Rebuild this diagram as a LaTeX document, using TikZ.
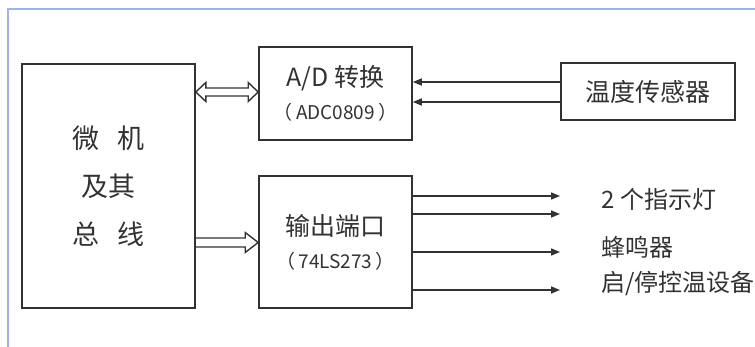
\documentclass[tikz,border=0pt]{standalone}
\usepackage{fontspec}
\setmainfont{Noto Sans CJK SC}
\usepackage{xcolor}
\usetikzlibrary{positioning, calc, arrows.meta}

\definecolor{framecol}{RGB}{160,180,225}
\definecolor{inkcol}{RGB}{50,50,50}

\tikzset{
  blockbox/.style={draw=inkcol, line width=0.8pt, rectangle, text=inkcol, align=center, inner sep=0pt},
  sig/.style={draw=inkcol, line width=0.8pt, -{Triangle[length=4.5pt,width=3.5pt]}},
  busline/.style={draw=inkcol, line width=0.7pt, line join=miter},
  outlabel/.style={anchor=west, text=inkcol, inner sep=0pt, font=\fontsize{12}{12}\selectfont}
}

\begin{document}
\begin{tikzpicture}[x=0.5pt, y=-0.5pt]
    \useasboundingbox (0,0) rectangle (755,347);

    % Outer frame
    \draw[framecol, line width=0.8pt] (8,347) -- (8,9) -- (755,9);

    % Blocks
    \node[blockbox, minimum width=86.5pt, minimum height=122pt,
          font=\fontsize{13.5}{24}\selectfont] (mcu) at (108.5,186)
        {微\hspace{0.7em}机\\及其\\总\hspace{0.7em}线};
    \node[blockbox, minimum width=76.5pt, minimum height=46.5pt,
          font=\fontsize{12.5}{16.5}\selectfont] (adc) at (335.5,93.5)
        {A/D 转换\\{\fontsize{9.5}{16.5}\selectfont （\,ADC0809\,）}};
    \node[blockbox, minimum width=76.5pt, minimum height=66pt,
          font=\fontsize{12.5}{16.5}\selectfont] (port) at (335.5,242)
        {输出端口\\{\fontsize{9.5}{16.5}\selectfont （\,74LS273\,）}};
    \node[blockbox, minimum width=87pt, minimum height=28.5pt,
          font=\fontsize{12.5}{14}\selectfont] (sensor) at (648,91.5) {温度传感器};

    % Output labels
    \node[outlabel] (lamp) at (601,199) {2 个指示灯};
    \node[outlabel] (buzzer) at (601,247) {蜂鸣器};
    \node[outlabel] (heater) at (601,284) {启/停控温设备};

    % Sensor to A/D
    \draw[sig] (sensor.west |- 0,82) -- (adc.east |- 0,82);
    \draw[sig] (sensor.west |- 0,102) -- (adc.east |- 0,102);

    % Port outputs
    \coordinate (outend) at (560,0);
    \draw[sig] (port.east |- 0,196) -- (outend |- 0,196);
    \draw[sig] (port.east |- 0,214) -- (outend |- 0,214);
    \draw[sig] (port.east |- 0,252) -- (outend |- 0,252);
    \draw[sig] (port.east |- 0,290) -- (outend |- 0,290);

    % Data bus (two-way) between mcu and A/D
    \coordinate (busL) at (mcu.east |- 0,92);
    \coordinate (busR) at (adc.west |- 0,92);
    \draw[busline] (busL) -- ($(busL)+(10,-9.5)$) -- ($(busL)+(10,-4)$)
        -- ($(busR)+(-10,-4)$) -- ($(busR)+(-10,-9.5)$) -- (busR)
        -- ($(busR)+(-10,9.5)$) -- ($(busR)+(-10,4)$)
        -- ($(busL)+(10,4)$) -- ($(busL)+(10,9.5)$) -- cycle;

    % Data bus (one-way) from mcu to port
    \coordinate (outL) at (mcu.east |- 0,242.5);
    \coordinate (outR) at (port.west |- 0,242.5);
    \draw[busline] ($(outL)+(0,-4.5)$) -- ($(outR)+(-13,-4.5)$)
        -- ($(outR)+(-13,-10)$) -- (outR) -- ($(outR)+(-13,10)$)
        -- ($(outR)+(-13,4.5)$) -- ($(outL)+(0,4.5)$);

\end{tikzpicture}
\end{document}
